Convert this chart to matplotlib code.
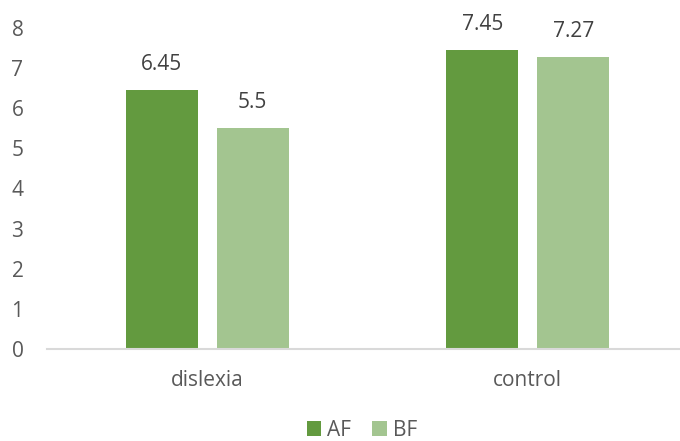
import numpy as np
import matplotlib
matplotlib.use('Agg')
import matplotlib.pyplot as plt

# data
categories = ['dislexia', 'control']
series_names = ['AF', 'BF']
af_values = [6.45, 7.45]
bf_values = [5.5, 7.27]
value_labels = {'AF': ['6.45', '7.45'], 'BF': ['5.5', '7.27']}

colors = {'AF': '#639a3f', 'BF': '#a3c590'}
textColor = '#595959'
fontSize = 15

plt.rcParams['font.family'] = ['Open Sans', 'DejaVu Sans']

fig = plt.figure(figsize=(6.8, 4.41), dpi=100)
ax = fig.add_axes([47/680, 1 - 349/441, 641/680, (349 - 28)/441])

x = np.arange(len(categories))
barWidth = 0.225
offset = 0.142
for vals, name, sign in [(af_values, 'AF', -1), (bf_values, 'BF', 1)]:
  rects = ax.bar(x + sign*offset, vals, barWidth, color=colors[name], label=name, zorder=2)
  for r, lab in zip(rects, value_labels[name]):
    ax.annotate(lab, (r.get_x() + r.get_width()/2, r.get_height()), xytext=(0, 11),
                textcoords='offset points', ha='center', va='bottom',
                fontsize=fontSize, color='#404040')

ax.set_xlim(-0.5, len(categories) - 0.5)
ax.set_ylim(0, 8)
ax.set_yticks(range(0, 9))
ax.set_xticks(x)
ax.set_xticklabels(categories)

for s in ['top', 'right', 'left']:
  ax.spines[s].set_visible(False)
ax.spines['bottom'].set_color('#d9d9d9')
ax.spines['bottom'].set_linewidth(1.5)
ax.spines['bottom'].set_zorder(3)

ax.tick_params(axis='both', length=0, labelsize=fontSize, labelcolor=textColor)
ax.tick_params(axis='y', pad=17)
ax.tick_params(axis='x', pad=15)

leg = fig.legend(loc='center', bbox_to_anchor=(362/680, 1 - 430/441), ncol=2, frameon=False,
                 fontsize=fontSize, handlelength=0.7, handleheight=0.7, handletextpad=0.3,
                 columnspacing=1.0, borderpad=0.1)
for t in leg.get_texts():
  t.set_color(textColor)

fig.savefig('out.png', dpi=100)
